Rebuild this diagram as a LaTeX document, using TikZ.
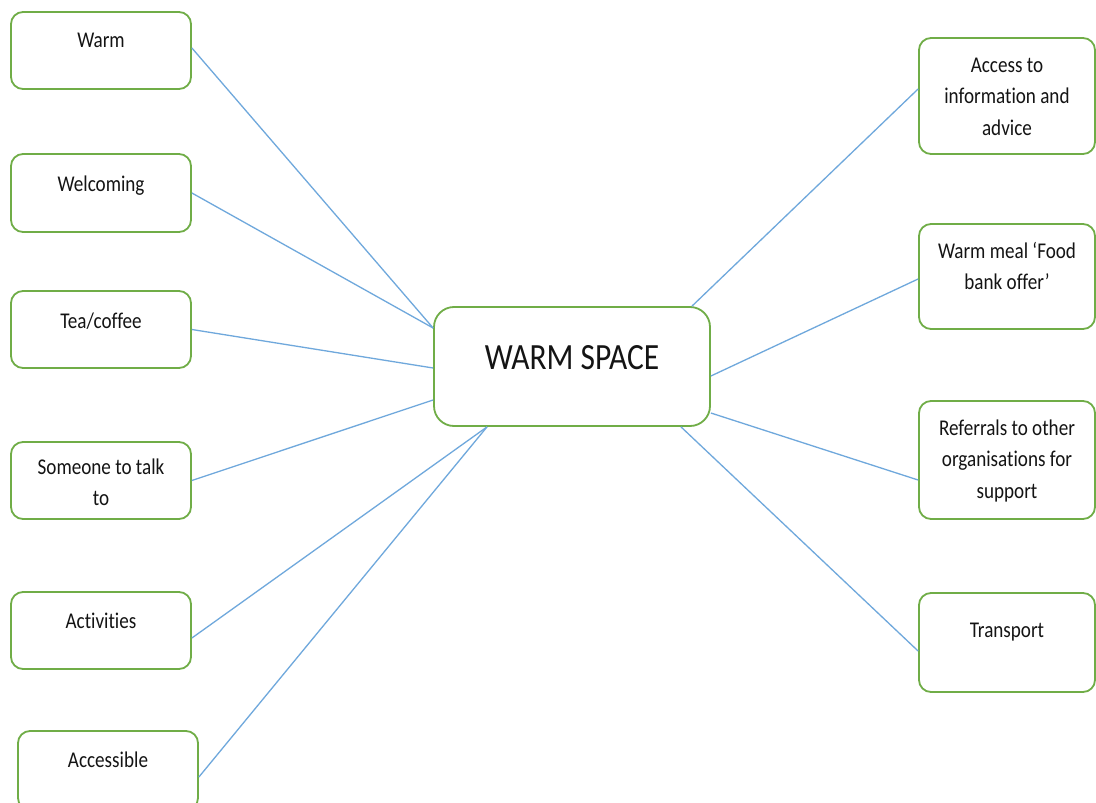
\documentclass[tikz,border=0pt]{standalone}
\usepackage{fontspec}
\setmainfont{Carlito}[FakeStretch=0.85,Ligatures=NoCommon]
\usetikzlibrary{calc}
\definecolor{boxgreen}{HTML}{70AD47}
\definecolor{linkblue}{HTML}{6FA8DC}
\definecolor{txt}{HTML}{141414}
\newcommand{\lines}[1]{\setlength{\tabcolsep}{0pt}\begin{tabular}[t]{c}#1\end{tabular}}
\tikzset{
  box/.style={draw=boxgreen, line width=1.8pt, rounded corners=12pt, fill=white, inner sep=0pt},
  bigbox/.style={box, rounded corners=20pt},
  lbl/.style={anchor=base, inner sep=0pt, text=txt, font=\fontsize{22.5}{31.5}\selectfont},
  biglbl/.style={anchor=base, inner sep=0pt, text=txt, font=\fontsize{37}{44}\selectfont},
  link/.style={draw=linkblue, line width=1.3pt}
}
\begin{document}
\begin{tikzpicture}[x=1pt,y=-1pt]
\clip (0,0) rectangle (1096,803);
\fill[white] (0,0) rectangle (1096,803);
% boxes
\node[box, minimum width=180, minimum height=77] (warm) at (101,50.5) {};
\node[box, minimum width=180, minimum height=78] (welc) at (101,193) {};
\node[box, minimum width=180, minimum height=77] (tea) at (101,329.5) {};
\node[box, minimum width=180, minimum height=77] (talk) at (101,480.5) {};
\node[box, minimum width=180, minimum height=77] (act) at (101,630.5) {};
\node[box, minimum width=180, minimum height=79] (acc) at (108,770.5) {};
\node[bigbox, minimum width=276, minimum height=119] (c) at (572,366.5) {};
\node[box, minimum width=176, minimum height=116] (info) at (1007,96) {};
\node[box, minimum width=176, minimum height=105] (meal) at (1007,276.5) {};
\node[box, minimum width=176, minimum height=118] (ref) at (1007,460) {};
\node[box, minimum width=176, minimum height=99] (trans) at (1007,642.5) {};
% links
\draw[link] ($(warm.east)+(0,-2.5)$) -- ($(c.west)+(0,-38.5)$);
\draw[link] (welc.east) -- ($(c.west)+(0,-38.5)$);
\draw[link] (tea.east) -- ($(c.west)+(0,1.5)$);
\draw[link] (talk.east) -- ($(c.west)+(0,33.5)$);
\draw[link] ($(act.east)+(0,7.5)$) -- ($(c.south)+(-85,0)$);
\draw[link] ($(acc.east)+(0,6.5)$) -- ($(c.south)+(-85,0)$);
\draw[link] ($(c.north)+(120,0)$) -- ($(info.west)+(0,-7)$);
\draw[link] ($(c.east)+(0,9.5)$) -- ($(meal.west)+(0,2.5)$);
\draw[link] ($(c.east)+(0,46.5)$) -- ($(ref.west)+(0,20)$);
\draw[link] ($(c.south)+(109,0)$) -- ($(trans.west)+(0,8.5)$);
% labels
\node[lbl] (warmt) at (101,47) {Warm};
\node[lbl] (welct) at (101,191) {Welcoming};
\node[lbl] (teat) at (101,328) {Tea/coffee};
\node[lbl] (talkt) at (101,474) {\lines{Someone to talk\\to}};
\node[lbl] (actt) at (101,628) {Activities};
\node[lbl] (acct) at (108,767) {Accessible};
\node[biglbl] (ct) at (572,369) {WARM SPACE};
\node[lbl] (infot) at (1007,72) {\lines{Access to\\information and\\advice}};
\node[lbl] (mealt) at (1007,258) {\lines{Warm meal ‘Food\\bank offer’}};
\node[lbl] (reft) at (1007,435) {\lines{Referrals to other\\organisations for\\support}};
\node[lbl] (transt) at (1007,637) {Transport};
\end{tikzpicture}
\end{document}
